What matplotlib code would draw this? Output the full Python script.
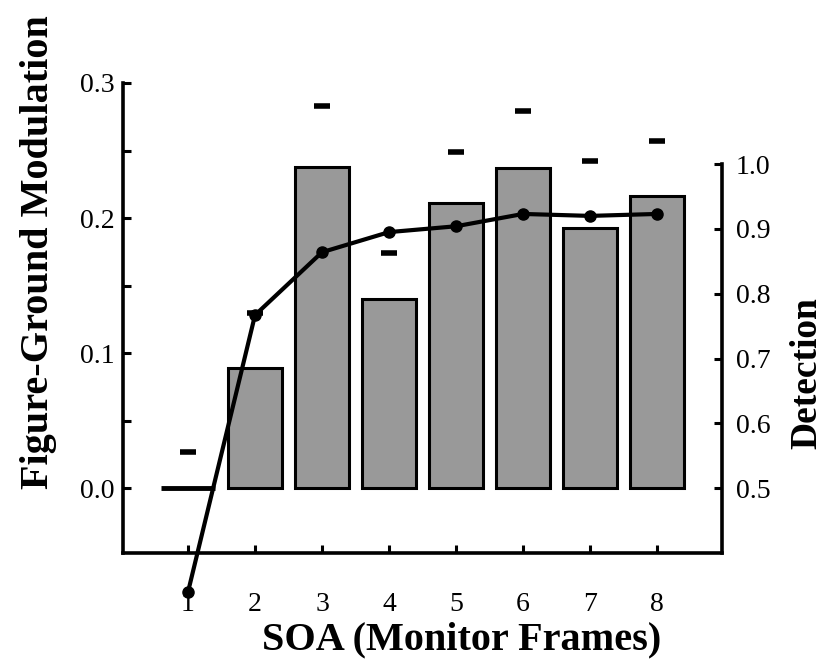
import matplotlib.pyplot as plt
from matplotlib.ticker import MultipleLocator

plt.rcParams['font.family'] = ['Liberation Serif', 'DejaVu Serif']

# data
soa = [1, 2, 3, 4, 5, 6, 7, 8]
modulation = [0.0, 0.089, 0.238, 0.140, 0.211, 0.237, 0.193, 0.216]
mod_upper = [0.027, 0.130, 0.283, 0.174, 0.249, 0.279, 0.242, 0.257]   # top of the error bars
detection = [0.34, 0.767, 0.864, 0.895, 0.904, 0.923, 0.920, 0.923]
tick_labels = ['1', '2', '3', '4', '5', '6', '7', '8']


def main():
    fig = plt.figure(figsize=(8.28, 6.65), dpi=100)
    ax = fig.add_axes([0.1486, 0.1684, 0.7234, 0.7068])

    # bars for figure-ground modulation (first one is ~0, drawn as a thick line)
    widths = [3.5] + [2.2] * (len(soa) - 1)
    ax.bar(soa, modulation, width=0.8, color='#999999', edgecolor='black', linewidth=widths, zorder=2)
    # only the upper caps of the error bars are drawn
    ax.plot(soa, mod_upper, linestyle='none', marker='_', markersize=12, markeredgewidth=4,
            color='black', zorder=3)

    ax.set_xlim(0.03, 8.97)
    ax.set_ylim(-0.048, 0.3)
    ax.set_xticks(soa)
    ax.set_xticklabels(tick_labels)
    ax.yaxis.set_major_locator(MultipleLocator(0.1))
    ax.yaxis.set_minor_locator(MultipleLocator(0.05))
    ax.set_yticks([0.0, 0.1, 0.2, 0.3])
    ax.set_yticklabels(['0.0', '0.1', '0.2', '0.3'])

    ax.spines['top'].set_visible(False)
    ax.spines['right'].set_visible(False)
    for s in ['left', 'bottom']:
        ax.spines[s].set_linewidth(2.6)

    ax.tick_params(axis='both', which='both', direction='in', length=6, width=2.2, labelsize=20)
    ax.tick_params(axis='x', pad=28)
    ax.tick_params(axis='y', pad=6)

    ax.set_xlabel('SOA (Monitor Frames)', fontsize=29, fontweight='bold')
    ax.xaxis.set_label_coords(0.566, -0.145)
    ax.set_ylabel('Figure-Ground Modulation', fontsize=29, fontweight='bold')
    ax.yaxis.set_label_coords(-0.11, 0.64)

    # detection on the right axis
    ax2 = ax.twinx()
    ax2.plot(soa, detection, color='black', linewidth=3, marker='o', markersize=8,
             clip_on=False, zorder=4)
    ax2.set_ylim(0.4, 1.125)
    ax2.set_yticks([0.5, 0.6, 0.7, 0.8, 0.9, 1.0])
    ax2.set_yticklabels(['0.5', '0.6', '0.7', '0.8', '0.9', '1.0'])
    for s in ['top', 'left', 'bottom']:
        ax2.spines[s].set_visible(False)
    ax2.spines['right'].set_linewidth(2.6)
    ax2.spines['right'].set_bounds(0.4, 1.0)
    ax2.tick_params(axis='y', direction='in', length=6, width=2.2, labelsize=20, pad=10)
    ax2.set_ylabel('Detection', fontsize=27, fontweight='bold')
    ax2.yaxis.set_label_coords(1.112, 0.383)

    fig.savefig('out.png', dpi=100)
    plt.close(fig)


if __name__ == '__main__':
    main()
